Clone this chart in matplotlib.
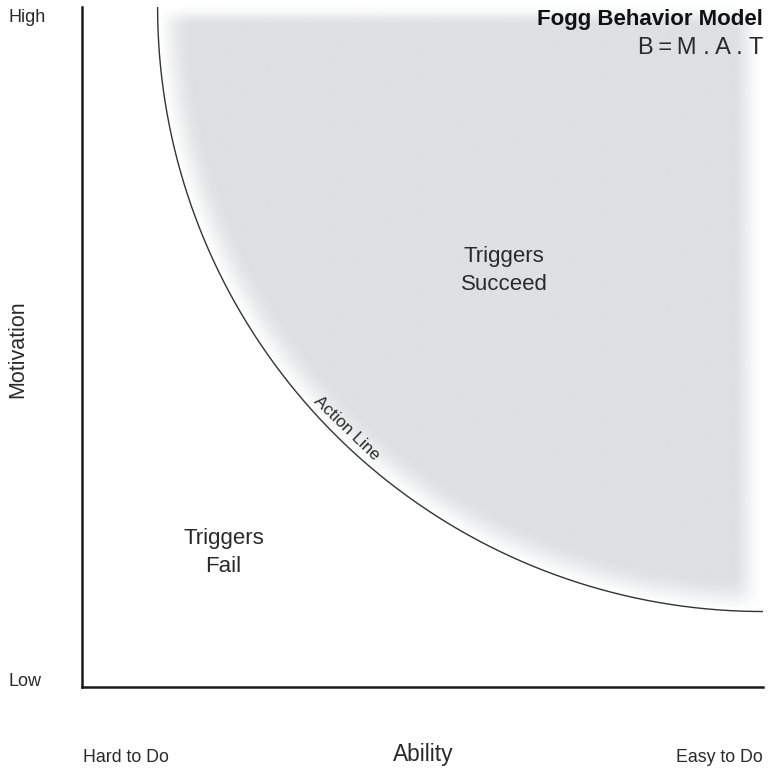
import numpy as np
import matplotlib
matplotlib.use("Agg")
import matplotlib.pyplot as plt

# ---- data ----
center = (1.0, 1.0)          # action line centre (Easy to Do, High)
radius = 0.889               # action line radius in axis units
y_labels = ["Low", "High"]
x_labels = ["Hard to Do", "Easy to Do"]
x_title = "Ability"
y_title = "Motivation"
regions = ["Triggers\nSucceed", "Triggers\nFail"]
region_pos = [(0.62, 0.613), (0.208, 0.198)]
title = "Fogg Behavior Model"
subtitle = "B\u2009=\u2009M . A . T"
curve_label = "Action Line"

W, H = 769, 771
fig = plt.figure(figsize=(W / 100, H / 100), dpi=100)
plt.rcParams['font.family'] = ['Liberation Sans', 'DejaVu Sans']
TXT = "#2a2a2a"

def fx(px):
    return px / W

def fy(py):
    return 1 - py / H

ax = fig.add_axes([fx(82), fy(687), (763 - 82) / W, (687 - 7) / H])
ax.set_xlim(0, 1)
ax.set_ylim(0, 1)
for s in ["top", "right"]:
    ax.spines[s].set_visible(False)
for s in ["left", "bottom"]:
    ax.spines[s].set_linewidth(1.8)
    ax.spines[s].set_color("#1a1a1a")
ax.set_xticks([])
ax.set_yticks([])

# shaded success region
n = 700
xs = np.linspace(0, 1, n)
ys = np.linspace(0, 1, n)
X, Y = np.meshgrid(xs, ys)
d = np.hypot(X - center[0], Y - center[1])

def smooth(t):
    t = np.clip(t, 0, 1)
    return t * t * (3 - 2 * t)

edge = np.clip((radius - d) / 0.05, 0, 1)
edge = np.sin(edge * np.pi / 2) ** 1.3
alpha = (edge
         * smooth((1 - X) / 0.045)
         * smooth((1 - Y + 0.004) / 0.032))
img = np.zeros((n, n, 4))
img[..., 0] = 0xde / 255
img[..., 1] = 0xe0 / 255
img[..., 2] = 0xe2 / 255
img[..., 3] = alpha
ax.imshow(img, extent=[0, 1, 0, 1], origin="lower", aspect="auto", zorder=0,
          interpolation="bilinear")

# action line
th = np.linspace(np.pi, 1.5 * np.pi, 400)
ax.plot(center[0] + radius * np.cos(th), center[1] + radius * np.sin(th),
        color="#333333", lw=1.0, zorder=2)

# action line label
ang = np.deg2rad(225.4)
lx = center[0] + (radius - 0.019) * np.cos(ang)
ly = center[1] + (radius - 0.019) * np.sin(ang)
ax.text(lx, ly, curve_label, rotation=-44, rotation_mode="anchor",
        ha="center", va="center", fontsize=12.3, color=TXT)

# region labels
for lab, (px, py) in zip(regions, region_pos):
    ax.text(px, py, lab, ha="center", va="center", fontsize=16,
            color=TXT, linespacing=1.42)

# title
fig.text(fx(763), fy(20), title, ha="right", va="center", fontsize=16,
         fontweight="bold", color="#111111")
fig.text(fx(763), fy(48), subtitle, ha="right", va="center", fontsize=17,
         color=TXT)

# axis end labels
fig.text(fx(8), fy(17), y_labels[1], ha="left", va="center", fontsize=13, color=TXT)
fig.text(fx(8), fy(682), y_labels[0], ha="left", va="center", fontsize=13, color=TXT)
fig.text(fx(18), fy(349), y_title, ha="center", va="center", rotation=90,
         fontsize=15.5, color=TXT)
fig.text(fx(83), fy(757), x_labels[0], ha="left", va="center", fontsize=12.8, color=TXT)
fig.text(fx(763), fy(757), x_labels[1], ha="right", va="center", fontsize=12.8, color=TXT)
fig.text(fx(423), fy(755), x_title, ha="center", va="center", fontsize=16.4, color=TXT)

fig.savefig("out.png", dpi=100)
